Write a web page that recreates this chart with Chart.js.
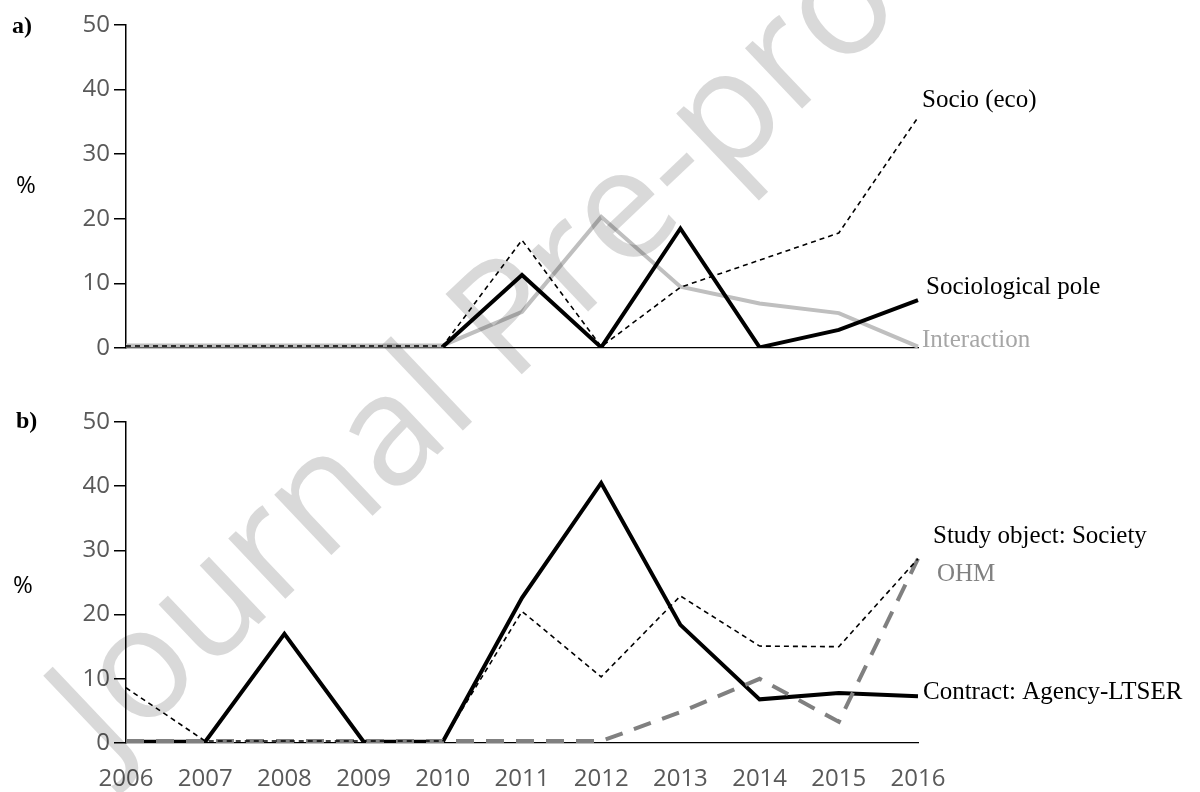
<!DOCTYPE html>
<html>
<head>
<meta charset="utf-8">
<script src="https://cdn.jsdelivr.net/npm/chart.js@4/dist/chart.umd.min.js"></script>
<style>
  body { margin: 0; background: #fff; }
  canvas { position: absolute; left: 0; }
  #chartA { top: 0; }
  #chartB { top: 396px; }
</style>
</head>
<body>
<canvas id="chartA" width="1200" height="396"></canvas>
<canvas id="chartB" width="1200" height="396"></canvas>
<script>
// years on the x axis
const years = ['2006', '2007', '2008', '2009', '2010', '2011', '2012', '2013', '2014', '2015', '2016'];
const yTicks = [0, 10, 20, 30, 40, 50];

// panel a)
const socioEco = [0.3, 0.3, 0.3, 0.3, 0.3, 16.7, 0.2, 9.4, 13.6, 17.8, 35.7];
const sociologicalPole = [null, null, null, null, 0.2, 11.3, 0.1, 18.5, 0.1, 2.8, 7.4];
const interaction = [0.4, 0.4, 0.4, 0.4, 0.4, 5.6, 20.3, 9.5, 6.9, 5.4, 0.2];

// panel b)
const studyObjectSociety = [8.6, 0.3, 0.3, 0.3, 0.3, 20.5, 10.3, 22.9, 15.1, 15.0, 28.7];
const ohm = [0.3, 0.3, 0.3, 0.3, 0.3, 0.3, 0.3, 4.8, 10.0, 3.3, 28.7];
const contractAgency = [0.2, 0.2, 17.0, 0.2, 0.2, 22.6, 40.5, 18.4, 6.8, 7.8, 7.3];

const tickGray = '#595959';

// labels written at the end of each line, offsets from last point
const endLabelStyle = {
  'Socio (eco)': { dx: 4, dy: -17, color: '#000' },
  'Sociological pole': { dx: 8, dy: -13, color: '#000' },
  'Interaction': { dx: 4, dy: -6, color: '#a6a6a6' },
  'Study object: Society': { dx: 15, dy: -22, color: '#000' },
  'OHM': { dx: 19, dy: 16, color: '#808080' },
  'Contract: Agency-LTSER': { dx: 5, dy: -4, color: '#000' }
};

const decorPlugin = {
  id: 'decor',
  beforeDraw(chart) {
    const ctx = chart.ctx;
    ctx.save();
    ctx.fillStyle = '#fff';
    ctx.fillRect(0, 0, chart.width, chart.height);
    ctx.restore();
  },
  afterDraw(chart, args, opts) {
    const ctx = chart.ctx;
    ctx.save();
    // panel letter
    ctx.fillStyle = '#000';
    ctx.font = 'bold 24px "Liberation Serif"';
    ctx.textBaseline = 'alphabetic';
    ctx.textAlign = 'left';
    ctx.fillText(opts.panel, opts.panelX, opts.panelY);
    // % unit
    ctx.font = '24px "Open Sans"';
    ctx.textAlign = 'center';
    ctx.textBaseline = 'middle';
    ctx.fillText('%', opts.pctX, opts.pctY);
    // end labels
    ctx.font = '25px "Liberation Serif"';
    ctx.textAlign = 'left';
    chart.data.datasets.forEach((ds, i) => {
      const meta = chart.getDatasetMeta(i);
      const pt = meta.data[meta.data.length - 1];
      const st = endLabelStyle[ds.label];
      ctx.fillStyle = st.color;
      ctx.fillText(ds.label, pt.x + st.dx, pt.y + st.dy);
    });
    // watermark
    ctx.globalCompositeOperation = 'multiply';
    ctx.fillStyle = '#d9d9d9';
    ctx.font = '155px "Open Sans"';
    ctx.textBaseline = 'alphabetic';
    ctx.translate(109, 766 - opts.offsetY);
    ctx.rotate(-43.5 * Math.PI / 180);
    ctx.fillText('Journal Pre-proof', 0, 0);
    ctx.restore();
  }
};

function yScale() {
  return {
    min: 0,
    max: 50,
    afterBuildTicks: (s) => { s.ticks = yTicks.map(v => ({ value: v })); },
    afterFit: (s) => { s.width = 126; },
    grid: { display: true, drawOnChartArea: false, drawTicks: true, tickLength: 12, color: '#000', lineWidth: 1.5 },
    border: { display: true, color: '#000', width: 1.5 },
    ticks: { color: tickGray, font: { family: 'Open Sans', size: 24 }, padding: 4 }
  };
}

function makeChart(id, datasets, showX, pad, decor) {
  const ctx = document.getElementById(id).getContext('2d');
  return new Chart(ctx, {
    type: 'line',
    data: { labels: years, datasets: datasets },
    options: {
      responsive: false,
      animation: false,
      layout: { padding: pad },
      elements: { point: { radius: 0 }, line: { tension: 0, borderCapStyle: 'butt' } },
      plugins: { legend: { display: false }, tooltip: { enabled: false }, decor: decor },
      scales: {
        x: {
          afterFit: (s) => { s.height = showX ? 49 : 0; },
          grid: { display: false, drawTicks: false },
          border: { display: true, color: '#000', width: 1.2 },
          ticks: { display: showX, color: tickGray, font: { family: 'Open Sans', size: 24 }, padding: 22, maxRotation: 0, autoSkip: false }
        },
        y: yScale()
      }
    },
    plugins: [decorPlugin]
  });
}

makeChart('chartA', [
  { label: 'Socio (eco)', data: socioEco, borderColor: '#000', borderWidth: 1.6, borderDash: [5, 4], fill: false },
  { label: 'Sociological pole', data: sociologicalPole, borderColor: '#000', borderWidth: 4, fill: false },
  { label: 'Interaction', data: interaction, borderColor: '#bfbfbf', borderWidth: 4, fill: false }
], false, { left: 0, right: 282, top: 25, bottom: 48 },
  { panel: 'a)', panelX: 12, panelY: 33, pctX: 26, pctY: 186, offsetY: 0 });

makeChart('chartB', [
  { label: 'Study object: Society', data: studyObjectSociety, borderColor: '#000', borderWidth: 1.6, borderDash: [5, 4], fill: false },
  { label: 'OHM', data: ohm, borderColor: '#808080', borderWidth: 4, borderDash: [18, 12], fill: false },
  { label: 'Contract: Agency-LTSER', data: contractAgency, borderColor: '#000', borderWidth: 4, fill: false }
], true, { left: 0, right: 282, top: 26, bottom: 0 },
  { panel: 'b)', panelX: 16, panelY: 32, pctX: 23, pctY: 190, offsetY: 396 });
</script>
</body>
</html>
